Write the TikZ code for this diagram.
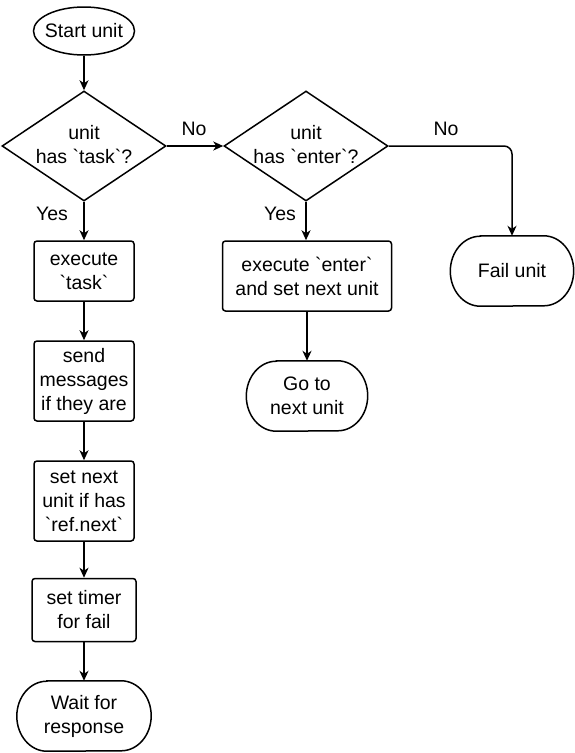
\documentclass[tikz,border=0pt]{standalone}
\usepackage{fontspec}
\setmainfont{Liberation Sans}
\usetikzlibrary{shapes.geometric,arrows.meta}
\newcommand\bq{\textasciigrave}
\newcommand\termoutline[1]{%
  \draw[base] ([xshift=30pt]#1.north west) -- ([xshift=-30pt]#1.north east)
    arc[start angle=90, end angle=-90, x radius=30pt, y radius=35pt]
    -- ([xshift=30pt]#1.south west)
    arc[start angle=270, end angle=90, x radius=30pt, y radius=35pt] -- cycle;}
\begin{document}
\begin{tikzpicture}[x=1pt,y=-1pt,
  every node/.style={font=\fontsize{19.5}{24}\selectfont, align=center, inner sep=0pt},
  base/.style={draw, line width=1.5pt},
  procbox/.style={base, rectangle, rounded corners=3pt},
  termbox/.style={rectangle, minimum height=70pt},
  ovalbox/.style={base, ellipse},
  decbox/.style={base, diamond},
  arr/.style={line width=1.5pt, -{Stealth[length=10pt,width=9pt,inset=3pt]}},
  lbl/.style={font=\fontsize{19.5}{24}\selectfont}
]
\useasboundingbox (0,0) rectangle (574,753);
% start
\node[ovalbox, minimum width=101pt, minimum height=48pt] (start) at (84,31) {};
\node (startt) at (start) {Start unit};
% decisions
\node[decbox, minimum width=164pt, minimum height=110pt] (d1) at (84,146) {};
\node (d1t) at (84,145) {unit\\has \bq task\bq?};
\node[decbox, minimum width=164pt, minimum height=110pt] (d2) at (306,146) {};
\node (d2t) at (306,145) {unit\\has \bq enter\bq?};
% left column
\node[procbox, minimum width=100pt, minimum height=60pt] (task) at (84,271) {execute\\\bq task\bq};
\node[procbox, minimum width=100pt, minimum height=80pt] (send) at (84,381) {send\\messages\\if they are};
\node[procbox, minimum width=100pt, minimum height=80pt] (setnext) at (84,501) {set next\\unit if has\\\bq ref.next\bq};
\node[procbox, minimum width=104pt, minimum height=63pt] (timer) at (84,610) {set timer\\for fail};
\node[termbox, minimum width=134pt] (wait) at (84,716) {Wait for\\response};
\termoutline{wait}
% middle column
\node[procbox, minimum width=169pt, minimum height=70pt] (enter) at (307,276) {execute \bq enter\bq\\and set next unit};
\node[termbox, minimum width=121pt] (goto) at (307,396) {Go to\\next unit};
\termoutline{goto}
% right
\node[termbox, minimum width=123pt] (fail) at (512,271) {Fail unit};
\termoutline{fail}
% connectors
\draw[arr] (start) -- (d1.north);
\draw[arr] (d1.east) -- (d2.west);
\draw[arr] (d1.south) -- (task.north);
\draw[arr] (task) -- (send);
\draw[arr] (send) -- (setnext);
\draw[arr] (setnext) -- (timer);
\draw[arr] (timer) -- (wait);
\draw[arr] (d2.south) -- (d2.south |- enter.north);
\draw[arr] (enter.south -| goto.north) -- (goto.north);
\draw[arr, rounded corners=8pt] (d2.east) -- (fail.north |- d2.east) -- (fail.north);
% labels
\node[lbl] (no1) at (194,129) {No};
\node[lbl] (no2) at (446,129) {No};
\node[lbl] (yes1) at (52,214) {Yes};
\node[lbl] (yes2) at (280,214) {Yes};
\end{tikzpicture}
\end{document}
